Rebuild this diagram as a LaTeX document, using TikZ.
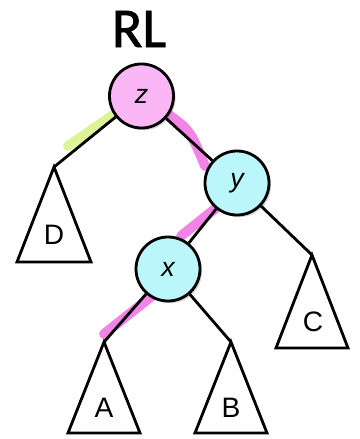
\documentclass[tikz,border=0pt]{standalone}
\usepackage{fontspec}
\setmainfont{Liberation Sans}
\newfontfamily\titlefont[FakeBold=1.3]{Carlito}
\usetikzlibrary{shadows}
\definecolor{zpink}{RGB}{250,182,245}
\definecolor{xcyan}{RGB}{186,246,250}
\definecolor{hlpink}{RGB}{240,110,225}
\definecolor{hlgreen}{RGB}{214,242,130}

\begin{document}
\begin{tikzpicture}[x=0.025cm,y=-0.025cm,
  vert/.style={circle,draw,line width=2pt,minimum size=1.6cm,inner sep=0pt,
    font=\fontsize{19}{19}\selectfont\itshape,
    drop shadow={shadow xshift=1.5pt,shadow yshift=-1.5pt,opacity=0.35}},
  tree/.style={draw,line width=2pt,line join=miter},
  hl/.style={line width=7pt,line cap=round,opacity=0.85},
  sub/.style={font=\fontsize{20}{20}\selectfont}]
\useasboundingbox (0,0) rectangle (360,439);

\node[font=\titlefont\fontsize{40}{40}\selectfont] (title) at (139,29) {RL};

% highlighted paths
\draw[hl,hlgreen] (119,111) -- (68,146);
\draw[hl,hlpink] (165,112) .. controls (190,130) .. (205,166);
\draw[hl,hlpink] (216,208) -- (181,236);
\draw[hl,hlpink] (152,296) -- (104,334);

\node[vert,fill=zpink] (z) at (141.5,96) {z};
\node[vert,fill=xcyan] (y) at (237,183) {y};
\node[vert,fill=xcyan] (x) at (168,269) {x};

\coordinate (tD) at (54,167);
\coordinate (tC) at (312,255);
\coordinate (tA) at (104,342);
\coordinate (tB) at (231,342);

\draw[line width=2pt] (z) -- (tD);
\draw[line width=2pt] (z) -- (y);
\draw[line width=2pt] (y) -- (x);
\draw[line width=2pt] (y) -- (tC);
\draw[line width=2pt] (x) -- (tA);
\draw[line width=2pt] (x) -- (tB);

\draw[tree] (tD) -- ++(-37,95) -- ++(74,0) -- cycle;
\draw[tree] (tC) -- ++(-36,93) -- ++(72,0) -- cycle;
\draw[tree] (tA) -- ++(-36,91) -- ++(72,0) -- cycle;
\draw[tree] (tB) -- ++(-36,91) -- ++(72,0) -- cycle;

\node[sub] (D) at (54,235) {D};
\node[sub] (C) at (313,322) {C};
\node[sub] (A) at (104,408) {A};
\node[sub] (B) at (231,408) {B};
\end{tikzpicture}
\end{document}
